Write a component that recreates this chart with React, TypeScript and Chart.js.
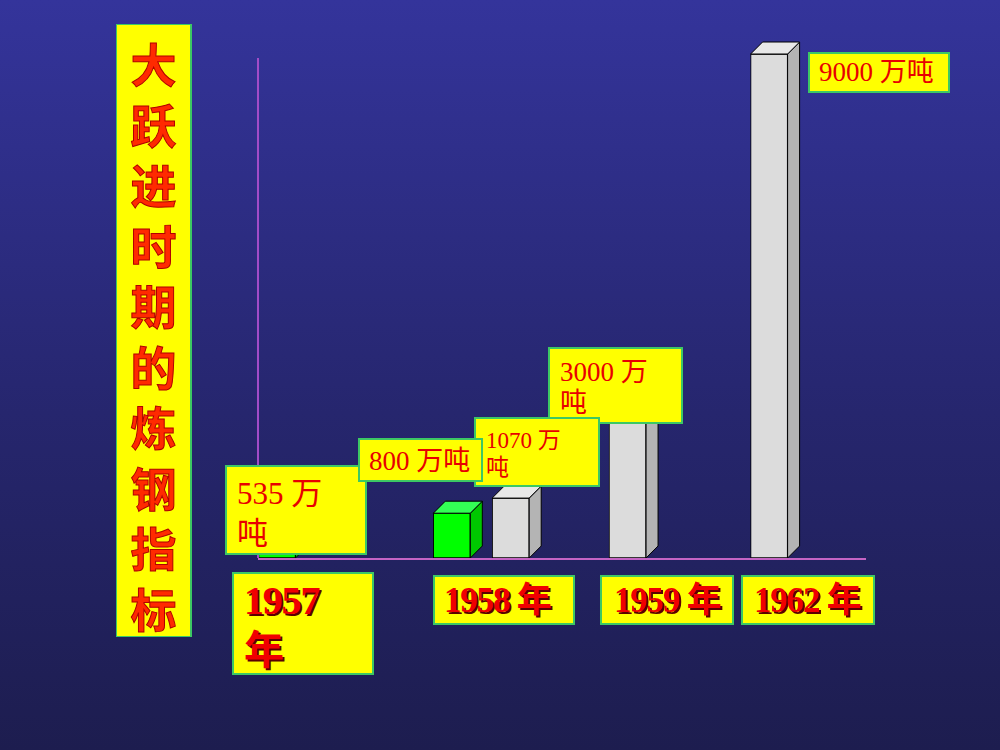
import React, { useEffect, useRef } from 'react';
import { Chart, registerables } from 'chart.js';

Chart.register(...registerables);

// ---------- data ----------
const barYears = ['1957', '1958', '1958', '1959', '1962'];
const steelTargets = [535, 800, 1070, 3000, 9000]; // 万吨
const yearLabels = ['1957', '1958', '1959', '1962'];
const yearSuffix = '年';
const unitA = '万';
const unitB = '吨';
const titleText = '大跃进时期的炼钢指标';
const yMax = 9000;

// ---------- layout / style (not data) ----------
const barSlots = [2, 20.4, 26.6, 38.9, 53.8]; // horizontal slot positions of the bars
const slotMax = 64;
const palettes = [
  { front: '#00FF00', side: '#00C800', top: '#33FF55' },
  { front: '#00FF00', side: '#00C800', top: '#33FF55' },
  { front: '#DCDCDC', side: '#B4B4B4', top: '#E8E8E8' },
  { front: '#DCDCDC', side: '#B4B4B4', top: '#E8E8E8' },
  { front: '#DCDCDC', side: '#B4B4B4', top: '#E8E8E8' },
];

type Box = { left: number; top: number; w: number; h: number; font: number; lh: number; padTop: number; padLeft: number; wrap: boolean; z: number };
const valueBoxes: Box[] = [
  { left: 225, top: 465, w: 142, h: 90, font: 31, lh: 40, padTop: 7, padLeft: 10, wrap: true, z: 2 },
  { left: 358, top: 438, w: 125, h: 44, font: 27, lh: 40, padTop: 1, padLeft: 9, wrap: false, z: 4 },
  { left: 474, top: 417, w: 126, h: 70, font: 23, lh: 27, padTop: 8, padLeft: 10, wrap: true, z: 3 },
  { left: 548, top: 347, w: 135, h: 77, font: 27, lh: 31, padTop: 8, padLeft: 10, wrap: true, z: 1 },
  { left: 808, top: 52, w: 142, h: 41, font: 27, lh: 37, padTop: 0, padLeft: 9, wrap: false, z: 1 },
];
const yearBoxes = [
  { left: 232, top: 572, w: 142, h: 103, padLeft: 10, padTop: 2, wrap: true, font: 40, lh: 50 },
  { left: 433, top: 575, w: 142, h: 50, padLeft: 9, padTop: 2, wrap: false, font: 35, lh: 44 },
  { left: 600, top: 575, w: 134, h: 50, padLeft: 12, padTop: 2, wrap: false, font: 35, lh: 44 },
  { left: 741, top: 575, w: 134, h: 50, padLeft: 11, padTop: 2, wrap: false, font: 35, lh: 44 },
];

const boxBorder = '2px solid #3CC864';
const serif = '"Liberation Serif", "Times New Roman", "Noto Sans CJK SC", serif';

const bar3d = {
  id: 'bar3d',
  afterDatasetsDraw(chart: any) {
    const ctx = chart.ctx;
    const meta = chart.getDatasetMeta(0);
    const d = 12;
    meta.data.forEach((el: any, i: number) => {
      const { x, y, base, width } = el.getProps(['x', 'y', 'base', 'width'], true);
      const l = x - width / 2;
      const r = x + width / 2;
      const pal = palettes[i];
      ctx.save();
      ctx.lineWidth = 1;
      ctx.strokeStyle = '#000';
      ctx.lineJoin = 'round';
      ctx.beginPath();
      ctx.moveTo(r, y);
      ctx.lineTo(r + d, y - d);
      ctx.lineTo(r + d, base - d);
      ctx.lineTo(r, base);
      ctx.closePath();
      ctx.fillStyle = pal.side;
      ctx.fill();
      ctx.stroke();
      ctx.beginPath();
      ctx.moveTo(l, y);
      ctx.lineTo(l + d, y - d);
      ctx.lineTo(r + d, y - d);
      ctx.lineTo(r, y);
      ctx.closePath();
      ctx.fillStyle = pal.top;
      ctx.fill();
      ctx.stroke();
      ctx.restore();
    });
  },
};

const axes = {
  id: 'axesLines',
  afterDatasetsDraw(chart: any) {
    const { ctx, chartArea } = chart;
    ctx.save();
    ctx.lineWidth = 2;
    ctx.strokeStyle = '#A24CC8';
    ctx.beginPath();
    ctx.moveTo(chartArea.left, chartArea.top + 4);
    ctx.lineTo(chartArea.left, chartArea.bottom);
    ctx.stroke();
    ctx.strokeStyle = '#C464C4';
    ctx.beginPath();
    ctx.moveTo(chartArea.left, chartArea.bottom + 1);
    ctx.lineTo(chartArea.right, chartArea.bottom + 1);
    ctx.stroke();
    ctx.restore();
  },
};

function BarChart() {
  const ref = useRef<HTMLCanvasElement | null>(null);
  useEffect(() => {
    if (!ref.current) return;
    const chart = new Chart(ref.current, {
      type: 'bar',
      data: {
        datasets: [
          {
            label: '炼钢指标',
            data: steelTargets.map((v, i) => ({ x: barSlots[i], y: v })) as any,
            backgroundColor: palettes.map((p) => p.front),
            borderColor: '#000',
            borderWidth: 1,
            borderSkipped: false,
            barThickness: 37,
          } as any,
        ],
      },
      options: {
        animation: false,
        responsive: false,
        events: [],
        layout: { padding: { left: 258, right: 134, top: 54, bottom: 192 } },
        plugins: { legend: { display: false }, tooltip: { enabled: false }, title: { display: false } },
        scales: {
          x: { type: 'linear', min: 0, max: slotMax, display: false, offset: false, grid: { offset: false } } as any,
          y: { type: 'linear', min: 0, max: yMax, display: false },
        },
      },
      plugins: [bar3d, axes],
    });
    return () => chart.destroy();
  }, []);
  return <canvas ref={ref} width={1000} height={750} style={{ position: 'absolute', left: 0, top: 0 }} />;
}

export default function App() {
  return (
    <div
      style={{
        position: 'fixed',
        left: 0,
        top: 0,
        width: 1000,
        height: 750,
        overflow: 'hidden',
        background: 'linear-gradient(to bottom, #34349B 0%, #26266E 55%, #1D1D4F 100%)',
      }}
    >
      <BarChart />
      {/* vertical title */}
      <div
        style={{
          position: 'absolute',
          left: 116,
          top: 24,
          width: 76,
          height: 613,
          boxSizing: 'border-box',
          background: '#FFFF00',
          borderLeft: '1px solid #3CC864',
          borderRight: '2px solid #3CC864',
          borderTop: '1px solid #3CC864',
          borderBottom: '1px solid #3CC864',
          paddingTop: 7,
          textAlign: 'center',
          fontFamily: '"Noto Sans CJK SC", sans-serif',
          fontWeight: 700,
          fontSize: 46,
          lineHeight: '60.5px',
          color: '#FF2A00',
          WebkitTextStroke: '1px #B00000',
        }}
      >
        {titleText.split('').map((c, i) => (
          <div key={i}>{c}</div>
        ))}
      </div>
      {/* value labels */}
      {valueBoxes.map((b, i) => (
        <div
          key={'v' + i}
          style={{
            position: 'absolute',
            left: b.left,
            top: b.top,
            width: b.w,
            height: b.h,
            boxSizing: 'border-box',
            background: '#FFFF00',
            border: boxBorder,
            zIndex: b.z,
            paddingTop: b.padTop,
            paddingLeft: b.padLeft,
            fontFamily: serif,
            fontSize: b.font,
            lineHeight: b.lh + 'px',
            color: '#E80000',
            whiteSpace: 'pre',
          }}
        >
          {b.wrap ? `${steelTargets[i]} ${unitA}\n${unitB}` : `${steelTargets[i]} ${unitA}${unitB}`}
        </div>
      ))}
      {/* year labels */}
      {yearBoxes.map((b, i) => (
        <div
          key={'y' + i}
          style={{
            position: 'absolute',
            left: b.left,
            top: b.top,
            width: b.w,
            height: b.h,
            boxSizing: 'border-box',
            background: '#FFFF00',
            border: boxBorder,
            paddingTop: b.padTop,
            paddingLeft: b.padLeft,
            fontFamily: serif,
            fontWeight: 700,
            fontSize: b.font,
            lineHeight: b.lh + 'px',
            letterSpacing: '-1.2px',
            color: '#F00000',
            textShadow: '2px 2px 0 #5A0000',
            whiteSpace: 'pre',
          }}
        >
          {b.wrap ? `${yearLabels[i]}\n${yearSuffix}` : `${yearLabels[i]} ${yearSuffix}`}
        </div>
      ))}
      <span style={{ display: 'none' }}>{barYears.join(',')}</span>
    </div>
  );
}
